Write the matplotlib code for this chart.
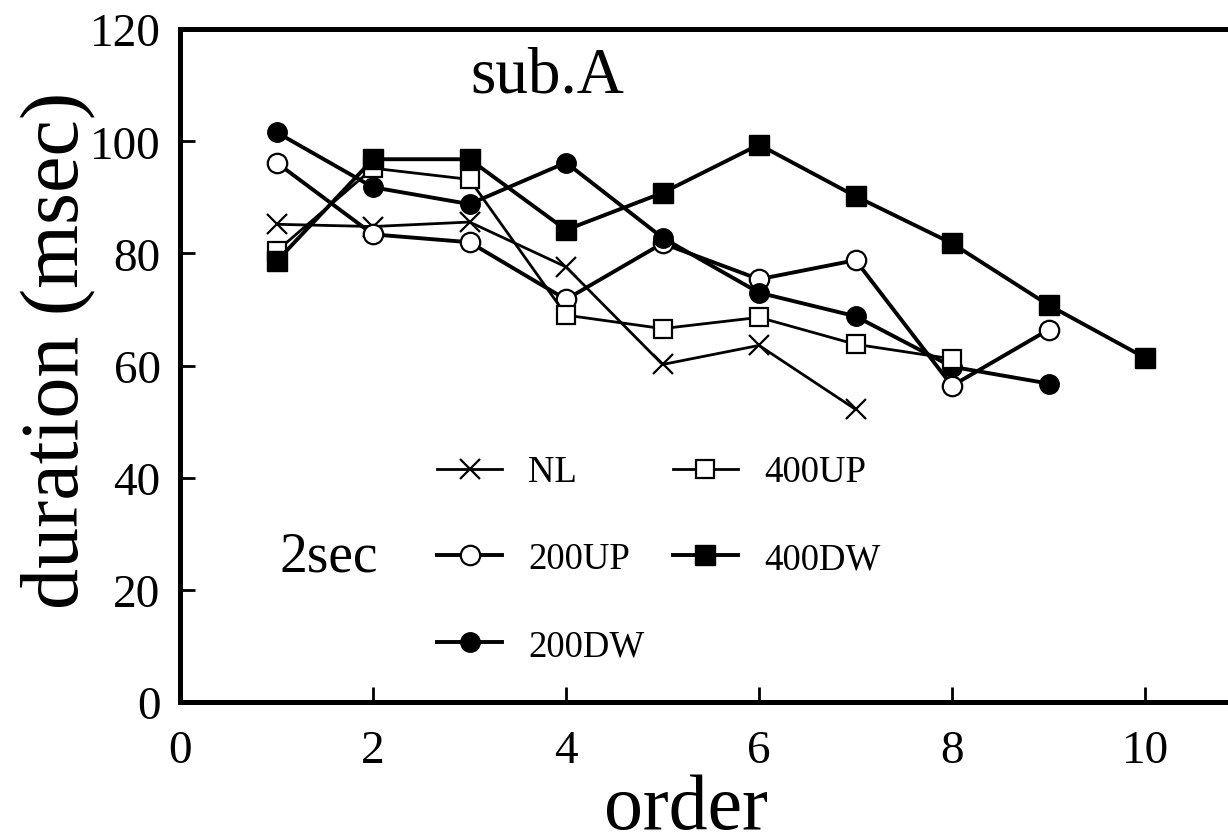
import matplotlib
matplotlib.use('Agg')
from matplotlib import pyplot as plt

plt.rcParams['font.family'] = ['Liberation Serif', 'DejaVu Serif']

order = [1, 2, 3, 4, 5, 6, 7, 8, 9, 10]

nl = [85.2, 84.8, 85.6, 77.6, 60.2, 63.6, 52.2]
up200 = [96.2, 83.4, 82.0, 71.8, 81.8, 75.4, 78.8, 56.4, 66.4]
dw200 = [101.6, 91.8, 88.8, 96.2, 82.8, 73.0, 68.8, 59.8, 56.8]
up400 = [80.4, 95.2, 93.2, 69.0, 66.6, 68.6, 63.8, 61.2]
dw400 = [78.6, 96.8, 96.8, 84.2, 90.8, 99.4, 90.2, 81.8, 70.8, 61.4]

fig = plt.figure(figsize=(12.28, 8.37), dpi=100)
ax = fig.add_axes([0.1466, 0.160, 0.8534, 0.804])

ax.plot(order[:len(nl)], nl, color='black', lw=2.0, marker='x', ms=15, mew=1.6, label='NL')
ax.plot(order[:len(up200)], up200, color='black', lw=2.8, marker='o', ms=14, mfc='white', mew=1.6, label='200UP')
ax.plot(order[:len(dw200)], dw200, color='black', lw=2.8, marker='o', ms=14, mfc='black', label='200DW')
ax.plot(order[:len(up400)], up400, color='black', lw=2.0, marker='s', ms=13, mfc='white', mew=1.6, label='400UP')
ax.plot(order[:len(dw400)], dw400, color='black', lw=2.8, marker='s', ms=14, mfc='black', label='400DW')

ax.set_xlim(0, 10.86)
ax.set_ylim(0, 120)
ax.set_xticks([0, 2, 4, 6, 8, 10])
ax.set_yticks([0, 20, 40, 60, 80, 100, 120])
ax.tick_params(direction='in', length=11, width=2, labelsize=34)
ax.tick_params(axis='x', pad=20)
ax.tick_params(axis='y', pad=14)
for s in ['left', 'bottom', 'top']:
    ax.spines[s].set_linewidth(3.6)
ax.spines['right'].set_visible(False)

ax.set_xlabel('order', fontsize=56)
ax.xaxis.set_label_coords((686 - 180) / 1048, -0.106, transform=ax.transAxes)
ax.set_ylabel('duration (msec)', fontsize=59)
ax.yaxis.set_label_coords(-0.08, (703 - 350) / 673)

ax.text(3.81, 111.6, 'sub.A', fontsize=47, ha='center', va='center')
ax.text(1.54, 26.0, '2sec', fontsize=40, ha='center', va='center')

ax.legend(ncol=2, frameon=False, fontsize=26.5, loc='upper left',
          bbox_to_anchor=(437 / 1228, 1 - 456 / 837), bbox_transform=fig.transFigure,
          borderpad=0, borderaxespad=0, handlelength=1.77, handletextpad=0.7,
          labelspacing=1.42, columnspacing=0.78, markerscale=1.0)

fig.savefig('out.png', dpi=100)
